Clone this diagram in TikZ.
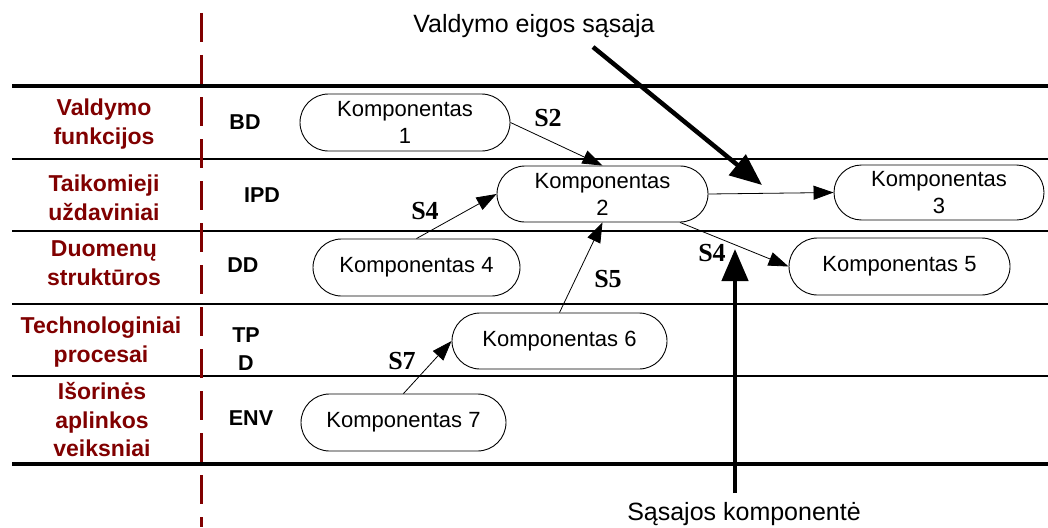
\documentclass[tikz,border=0pt]{standalone}
\usepackage{fontspec}
\setmainfont{Liberation Sans}
\newfontfamily\serifbold{Liberation Serif}[BoldFont={* Bold}]
\usetikzlibrary{shapes.misc,arrows.meta}
\definecolor{layerred}{RGB}{128,0,0}
\tikzset{
  layerline/.style={line width=2pt},
  edgeline/.style={line width=3.5pt},
  comp/.style={rounded rectangle, draw, line width=0.9pt, align=center,
    font=\fontsize{22}{27}\selectfont, inner sep=0pt},
  layername/.style={text=layerred, align=center,
    font=\fontsize{23}{28.5}\selectfont\bfseries},
  layercode/.style={align=center, font=\fontsize{21.5}{28}\selectfont\bfseries},
  slabel/.style={font=\fontsize{26}{26}\selectfont\serifbold\bfseries},
  flow/.style={line width=0.8pt, -{Triangle[length=20pt,width=14pt]}},
  control/.style={line width=4.5pt, -{Triangle[length=32pt,width=26pt]}},
  caption/.style={font=\fontsize{25}{30}\selectfont}
}
\begin{document}
\begin{tikzpicture}[x=1pt,y=-1pt]
\useasboundingbox (0,0) rectangle (1048,527);

% layer boundaries
\draw[edgeline] (12,86) -- (1048,86);
\draw[layerline] (12,159) -- (1048,159);
\draw[layerline] (12,231) -- (1048,231);
\draw[layerline] (12,304) -- (1048,304);
\draw[layerline] (12,376) -- (1048,376);
\draw[edgeline] (12,464) -- (1048,464);

% separator between layer names and codes
\draw[layerred, line width=3pt, dash pattern=on 29pt off 13pt] (201,13) -- (201,527);

% layer names
\node[layername] (n1) at (104,124) {Valdymo\\funkcijos};
\node[layername] (n2) at (104,198) {Taikomieji\\uždaviniai};
\node[layername] (n3) at (104,263) {Duomenų\\struktūros};
\node[layername] (n4) at (101,342) {Technologiniai\\procesai};
\node[layername] (n5) at (102,420) {Išorinės\\aplinkos\\veiksniai};

% layer codes
\node[layercode] (c1) at (245,122) {BD};
\node[layercode] (c2) at (262,195) {IPD};
\node[layercode] (c3) at (243,265) {DD};
\node[layercode] (c4) at (246,349) {TP\\D};
\node[layercode] (c5) at (251,418) {ENV};

% components
\node[comp, minimum width=210pt, minimum height=57pt] (k1) at (405,122.5) {Komponentas\\1};
\node[comp, minimum width=211pt, minimum height=56pt] (k2) at (602.5,194) {Komponentas\\2};
\node[comp, minimum width=210pt, minimum height=55pt] (k3) at (939,192.5) {Komponentas\\3};
\node[comp, minimum width=207pt, minimum height=57pt] (k4) at (416.5,267.5) {Komponentas 4};
\node[comp, minimum width=221pt, minimum height=57pt] (k5) at (899.5,266.5) {Komponentas 5};
\node[comp, minimum width=215pt, minimum height=56pt] (k6) at (559.5,341) {Komponentas 6};
\node[comp, minimum width=205pt, minimum height=57pt] (k7) at (403.5,422.5) {Komponentas 7};

% interfaces between components
\draw[flow] (k1.east) -- (k2.north);
\draw[flow] (k4.north) -- (k2.west);
\draw[flow] (k6.north) -- (k2.south);
\draw[flow] (k7.north) -- (k6.west);
\draw[flow] (k2.east) -- (k3.west);
\draw[flow] (k2.south east) -- (k5.west);

\node[slabel] (s2) at (548,118) {S2};
\node[slabel] (s4a) at (425,211) {S4};
\node[slabel] (s5) at (608,279) {S5};
\node[slabel] (s7) at (402,361) {S7};
\node[slabel] (s4b) at (712,253) {S4};

% control flow interface
\node[caption, anchor=base] (t1) at (534,33) {Valdymo eigos sąsaja};
\coordinate (cf0) at (593,47);
\coordinate (cf1) at (762,185);
\draw[control] (cf0) -- (cf1);

% interface component
\node[caption, anchor=base] (t2) at (744,520) {Sąsajos komponentė};
\coordinate (ic0) at (735,493);
\coordinate (ic1) at (735,249);
\draw[control] (ic0) -- (ic1);
\end{tikzpicture}
\end{document}
